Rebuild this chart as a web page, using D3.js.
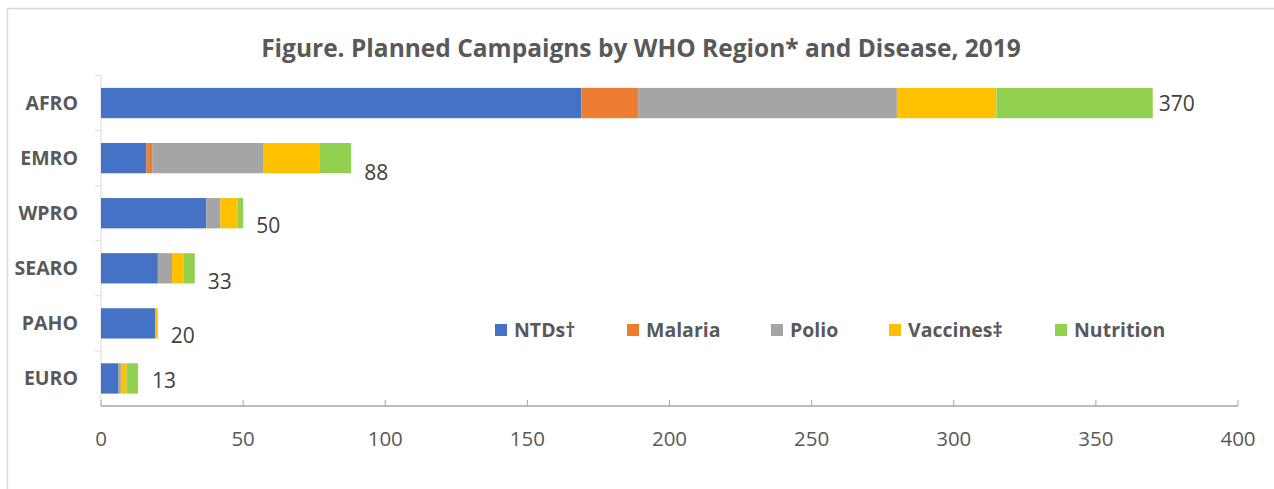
<!DOCTYPE html>
<html><head><meta charset="utf-8">
<script src="https://cdn.jsdelivr.net/npm/d3@7/dist/d3.min.js"></script>
<style>
html,body{margin:0;padding:0;background:#fff;}
svg{display:block;font-family:"Open Sans",sans-serif;}
</style></head>
<body><svg id="c" width="1274" height="489"></svg>
<script>
const regions = ["AFRO","EMRO","WPRO","SEARO","PAHO","EURO"];
const seriesNames = ["NTDs†","Malaria","Polio","Vaccines‡","Nutrition"];
const ntds      = [169, 16, 37, 20, 19, 6];
const malaria   = [20, 2, 0, 0, 0, 0];
const polio     = [91, 39, 5, 5, 0, 1];
const vaccines  = [35, 20, 6, 4, 1, 2];
const nutrition = [55, 11, 2, 4, 0, 4];
const totals    = [370, 88, 50, 33, 20, 13];
const xTicks    = [0,50,100,150,200,250,300,350,400];
const colors = ["#4472c4","#ed7d31","#a5a5a5","#ffc000","#92d050"];

// layout (label nudges as placed in the original figure)
const labelDx = [6, 13, 13, 13, 13, 14];
const labelDy = [0, 14, 12, 13, 12, 2];

const svg = d3.select("#c");
svg.append("rect").attr("x",7.5).attr("y",8.5).attr("width",1280).attr("height",500)
  .attr("fill","none").attr("stroke","#d9d9d9").attr("stroke-width",1.5);

svg.append("text").attr("x",641).attr("y",57).attr("text-anchor","middle")
  .attr("font-size",24.5).attr("font-weight",700).attr("fill","#595959")
  .text("Figure. Planned Campaigns by WHO Region* and Disease, 2019");

const x = d3.scaleLinear().domain([0,400]).range([101,1238]);
const y = d3.scaleBand().domain(regions).range([75.5,406]).paddingInner(0.45).paddingOuter(0.225);

const rows = regions.map((r,i)=>({region:r, NTDs:ntds[i], Malaria:malaria[i], Polio:polio[i], Vaccines:vaccines[i], Nutrition:nutrition[i]}));
const keys = ["NTDs","Malaria","Polio","Vaccines","Nutrition"];
const stack = d3.stack().keys(keys)(rows);

const yAxisG = svg.append("g");
yAxisG.append("line").attr("x1",101).attr("x2",101).attr("y1",75.5).attr("y2",406).attr("stroke","#d9d9d9").attr("stroke-width",1);
d3.range(regions.length).forEach(i=>{
  const yy = 75.5 + i*((406-75.5)/regions.length);
  yAxisG.append("line").attr("x1",95).attr("x2",101).attr("y1",yy).attr("y2",yy).attr("stroke","#d9d9d9");
});

stack.forEach((s,k)=>{
  svg.append("g").attr("fill",colors[k]).selectAll("rect").data(s).join("rect")
    .attr("x",d=>x(d[0])).attr("width",d=>Math.max(0,x(d[1])-x(d[0])))
    .attr("y",d=>y(d.data.region)).attr("height",y.bandwidth());
});

svg.append("g").selectAll("text").data(regions).join("text")
  .attr("x",78).attr("y",d=>y(d)+y.bandwidth()/2).attr("dy","0.35em")
  .attr("text-anchor","end").attr("font-size",19.5).attr("font-weight",700).attr("fill","#595959")
  .text(d=>d);

svg.append("g").selectAll("text").data(totals).join("text")
  .attr("x",(d,i)=>x(d)+labelDx[i])
  .attr("y",(d,i)=>y(regions[i])+y.bandwidth()/2+labelDy[i]).attr("dy","0.36em")
  .attr("font-size",21).attr("fill","#404040").text(d=>d);

const xg = svg.append("g").attr("transform","translate(0,406)");
xg.append("line").attr("x1",101).attr("x2",1238).attr("stroke","#a6a6a6").attr("stroke-width",1.5);
xg.selectAll("line.t").data(xTicks).join("line").attr("class","t")
  .attr("x1",d=>x(d)).attr("x2",d=>x(d)).attr("y1",-6).attr("y2",0).attr("stroke","#a6a6a6");
xg.selectAll("text").data(xTicks).join("text")
  .attr("x",d=>x(d)).attr("y",33).attr("dy","0.36em").attr("text-anchor","middle")
  .attr("font-size",20.5).attr("fill","#595959").text(d=>d);

const legX = [495,627,771,889,1055];
const lg = svg.append("g");
seriesNames.forEach((n,i)=>{
  lg.append("rect").attr("x",legX[i]).attr("y",324).attr("width",12).attr("height",12).attr("fill",colors[i]);
  lg.append("text").attr("x",legX[i]+19).attr("y",330).attr("dy","0.36em")
    .attr("font-size",19.5).attr("font-weight",700).attr("fill","#595959").text(n);
});
</script></body></html>
